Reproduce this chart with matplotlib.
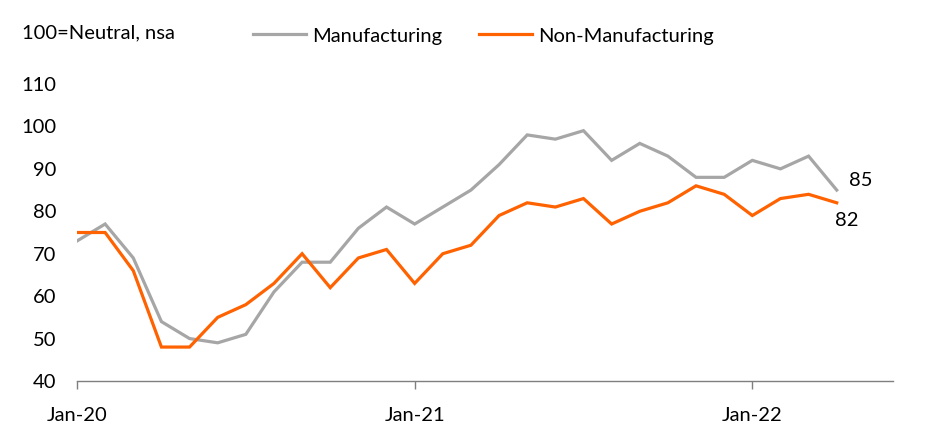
import matplotlib
matplotlib.use("Agg")
import matplotlib.pyplot as plt

plt.rcParams['font.family'] = ['Lato', 'DejaVu Sans']

months = list(range(28))  # Jan-20 .. Apr-22
manufacturing = [73, 77, 69, 54, 50, 49, 51, 61, 68, 68, 76, 81,
                 77, 81, 85, 91, 98, 97, 99, 92, 96, 93, 88, 88,
                 92, 90, 93, 85]
non_manufacturing = [75, 75, 66, 48, 48, 55, 58, 63, 70, 62, 69, 71,
                     63, 70, 72, 79, 82, 81, 83, 77, 80, 82, 86, 84,
                     79, 83, 84, 82]
xtick_pos = [0, 12, 24]
xtick_labels = ["Jan-20", "Jan-21", "Jan-22"]
yticks = [40, 50, 60, 70, 80, 90, 100, 110]

GRAY = "#A6A6A6"
ORANGE = "#FF6200"
FS = 14.5

W, H = 952, 438
fig = plt.figure(figsize=(W / 100, H / 100), dpi=100)
ax = fig.add_axes([77 / W, (H - 381) / H, (893 - 77) / W, (381 - 84) / H])

l1, = ax.plot(months, manufacturing, color=GRAY, lw=2.3, label="Manufacturing", solid_joinstyle='miter')
l2, = ax.plot(months, non_manufacturing, color=ORANGE, lw=2.3, label="Non-Manufacturing", solid_joinstyle='miter')

ax.set_xlim(0, 29)
ax.set_ylim(40, 110)
ax.set_yticks(yticks)
ax.set_xticks(xtick_pos)
ax.set_xticklabels(xtick_labels)

for s in ["top", "right", "left"]:
    ax.spines[s].set_visible(False)
ax.spines["bottom"].set_color("#7F7F7F")
ax.spines["bottom"].set_linewidth(1.0)
ax.tick_params(axis="y", length=0, pad=15, labelsize=FS, colors="black")
ax.tick_params(axis="x", length=6, width=1.0, color="#7F7F7F", pad=13, labelsize=FS, colors="black")

ax.annotate(str(manufacturing[-1]), (months[-1], manufacturing[-1]), xytext=(17, 7),
            textcoords="offset points", fontsize=FS, ha="center", va="center")
ax.annotate(str(non_manufacturing[-1]), (months[-1], non_manufacturing[-1]), xytext=(7, -13),
            textcoords="offset points", fontsize=FS, ha="center", va="center")

fig.text(22 / W, 1 - 33 / H, "100=Neutral, nsa", fontsize=FS, ha="left", va="center")
fig.legend(handles=[l1, l2], loc="center left", bbox_to_anchor=(253 / W, 1 - 36 / H),
           ncol=2, frameon=False, fontsize=FS, handlelength=2.63, handletextpad=0.3,
           columnspacing=1.84, borderaxespad=0, borderpad=0)

fig.savefig("out.png", dpi=100)
